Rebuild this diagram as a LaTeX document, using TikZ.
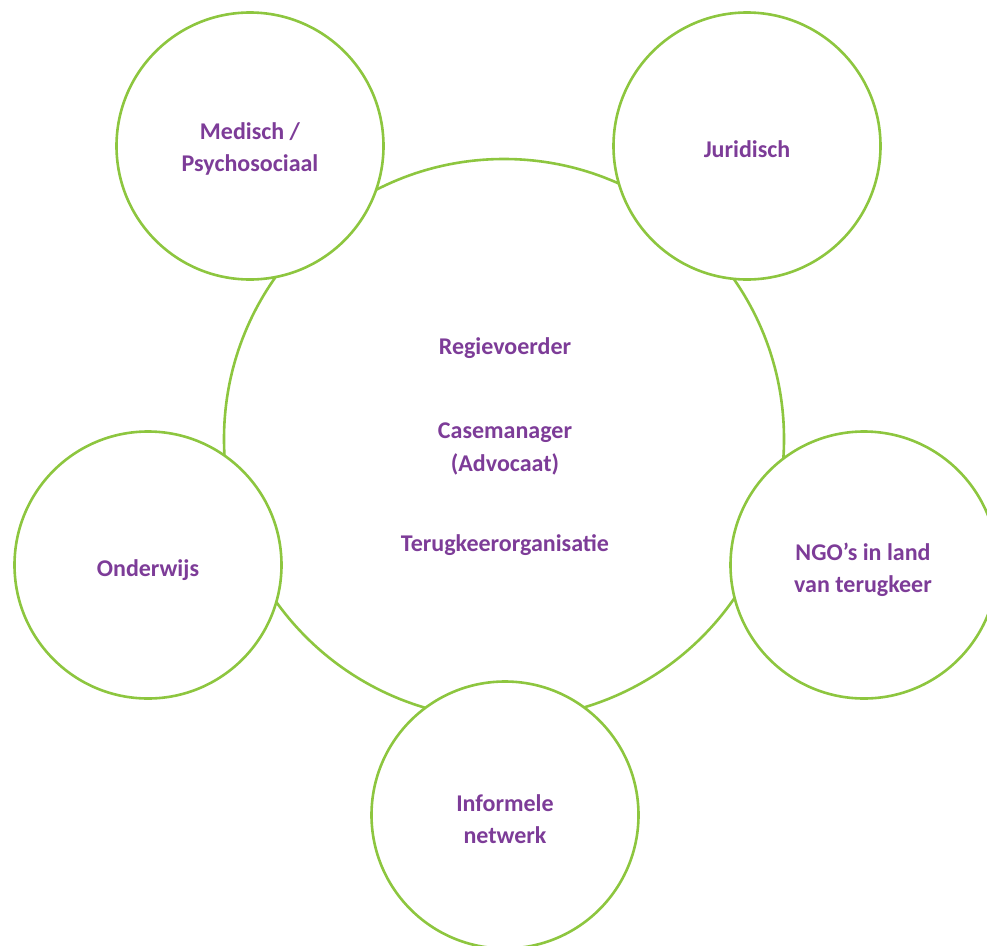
\documentclass[tikz,border=0pt]{standalone}
\usepackage{fontspec}
\setmainfont{Carlito}
\definecolor{ringgreen}{RGB}{141,198,63}
\definecolor{txtpurple}{RGB}{125,60,152}
\begin{document}
\begin{tikzpicture}[x=1pt,y=-1pt,
  ring/.style={circle,draw=ringgreen,line width=2.6pt,fill=white,minimum size=#1,inner sep=0pt},
  lbl/.style={text=txtpurple,font=\fontsize{24}{32.5}\selectfont\bfseries,align=center}]
\useasboundingbox (0,0) rectangle (987,945);
\node[ring=560pt] (hub) at (504,439) {};
\node[ring=267pt] (med) at (250,146) {};
\node[ring=267pt] (jur) at (747,146) {};
\node[ring=267pt] (ond) at (148,565) {};
\node[ring=267pt] (ngo) at (864,565) {};
\node[ring=267pt] (inf) at (505,815) {};
\node[lbl] (t1) at (505,348) {Regievoerder};
\node[lbl] (t2) at (505,449) {Casemanager\\(Advocaat)};
\node[lbl] (t3) at (505,545) {Terugkeerorganisatie};
\node[lbl] (l1) at (250,149) {Medisch /\\Psychosociaal};
\node[lbl] (l2) at (747,149) {Juridisch};
\node[lbl] (l3) at (148,570) {Onderwijs};
\node[lbl] (l4) at (863,570) {NGO’s in land\\van terugkeer};
\node[lbl] (l5) at (505,819) {Informele\\netwerk};
\end{tikzpicture}
\end{document}
